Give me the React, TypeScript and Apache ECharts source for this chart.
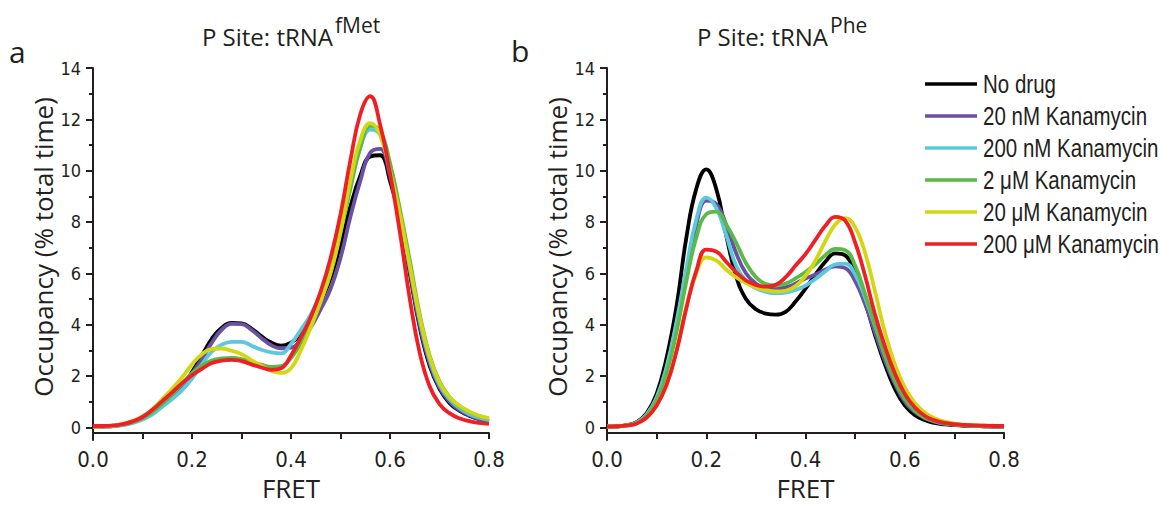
import React, { useEffect, useRef } from "react";
import * as echarts from "echarts";

// ---------- data ----------
const FRET = [
  0, 0.02, 0.04, 0.06, 0.08, 0.1, 0.12, 0.14, 0.16, 0.18, 0.2, 0.22, 0.24, 0.26,
  0.28, 0.3, 0.32, 0.34, 0.36, 0.38, 0.4, 0.42, 0.44, 0.46, 0.48, 0.5, 0.52, 0.54,
  0.56, 0.58, 0.6, 0.62, 0.64, 0.66, 0.68, 0.7, 0.72, 0.74, 0.76, 0.78, 0.8,
];

const SERIES_NAMES = [
  "No drug",
  "20 nM Kanamycin",
  "200 nM Kanamycin",
  "2 \u03bcM Kanamycin",
  "20 \u03bcM Kanamycin",
  "200 \u03bcM Kanamycin",
];
const SERIES_COLORS = ["#000000", "#6a4fa3", "#5cc8de", "#5bb947", "#d3d612", "#ee1f26"];

// Panel a: P site tRNA fMet
const fMetNoDrug = [0.02,0.03,0.05,0.1,0.2,0.36,0.6,0.9,1.22,1.6,2.15,2.8,3.45,3.88,4.07,4.05,3.85,3.55,3.3,3.18,3.3,3.6,4.1,4.9,5.8,7.1,8.6,9.8,10.55,10.6,9.6,8.1,6.0,3.9,2.4,1.5,0.95,0.65,0.45,0.32,0.24];
const fMet20nM = [0.02,0.03,0.05,0.1,0.2,0.36,0.6,0.9,1.22,1.6,2.1,2.65,3.3,3.8,4.03,4.02,3.8,3.48,3.2,3.08,3.1,3.4,3.9,4.6,5.4,6.6,8.2,9.6,10.7,10.85,9.8,8.2,6.1,4.0,2.5,1.55,1.0,0.68,0.47,0.33,0.25];
const fMet200nM = [0.02,0.03,0.04,0.08,0.16,0.3,0.5,0.8,1.1,1.45,1.9,2.45,2.95,3.22,3.33,3.33,3.18,3.02,2.92,2.88,3.25,3.8,4.4,5.2,6.1,7.7,9.5,10.9,11.6,11.4,10.0,8.3,6.3,4.2,2.65,1.65,1.1,0.75,0.52,0.37,0.28];
const fMet2uM = [0.03,0.04,0.06,0.1,0.2,0.36,0.6,0.92,1.28,1.7,2.1,2.4,2.6,2.68,2.7,2.66,2.55,2.44,2.35,2.38,2.7,3.3,4.1,5.0,6.1,7.6,9.3,10.9,11.75,11.55,10.3,8.5,6.5,4.4,2.8,1.78,1.18,0.82,0.6,0.44,0.34];
const fMet20uM = [0.03,0.04,0.06,0.12,0.24,0.42,0.7,1.1,1.5,1.95,2.45,2.85,3.05,3.07,2.98,2.85,2.62,2.4,2.2,2.12,2.3,3.0,3.9,4.9,6.0,7.6,9.6,11.2,11.85,11.4,10.0,8.3,6.3,4.3,2.75,1.75,1.18,0.85,0.62,0.45,0.35];
const fMet200uM = [0.05,0.05,0.07,0.12,0.23,0.4,0.68,1.02,1.36,1.72,2.03,2.28,2.5,2.6,2.63,2.58,2.45,2.33,2.24,2.3,2.8,3.5,4.3,5.3,6.6,8.3,10.4,12.2,12.9,11.8,9.9,7.6,5.0,2.9,1.6,0.9,0.55,0.35,0.24,0.17,0.13];

// Panel b: P site tRNA Phe
const pheNoDrug = [0.02,0.03,0.08,0.2,0.55,1.3,2.7,4.7,7.4,9.3,10.05,9.3,7.5,5.9,5.0,4.6,4.43,4.39,4.5,4.9,5.4,5.95,6.45,6.78,6.7,6.0,4.9,3.6,2.45,1.5,0.85,0.48,0.28,0.17,0.11,0.08,0.06,0.05,0.04,0.03,0.03];
const phe20nM = [0.02,0.03,0.07,0.18,0.5,1.15,2.3,4.0,6.0,7.9,8.83,8.7,7.9,6.8,6.0,5.6,5.42,5.4,5.45,5.6,5.8,5.95,6.15,6.27,6.2,5.7,4.8,3.7,2.6,1.7,1.0,0.6,0.36,0.22,0.14,0.1,0.07,0.05,0.04,0.03,0.03];
const phe200nM = [0.02,0.03,0.07,0.18,0.5,1.15,2.35,4.1,6.2,8.1,8.95,8.55,7.5,6.3,5.7,5.42,5.28,5.22,5.25,5.35,5.52,5.78,6.08,6.35,6.38,5.95,5.05,3.95,2.85,1.9,1.2,0.72,0.43,0.27,0.17,0.11,0.08,0.06,0.05,0.04,0.03];
const phe2uM = [0.02,0.03,0.07,0.17,0.45,1.05,2.1,3.7,5.7,7.4,8.3,8.4,7.9,7.2,6.4,5.85,5.58,5.52,5.6,5.8,6.05,6.35,6.7,6.95,6.9,6.3,5.2,4.0,2.8,1.8,1.1,0.65,0.38,0.23,0.14,0.1,0.07,0.05,0.04,0.03,0.03];
const phe20uM = [0.03,0.04,0.07,0.15,0.38,0.85,1.65,3.0,4.7,6.0,6.62,6.5,6.15,5.85,5.62,5.45,5.35,5.29,5.32,5.5,5.9,6.5,7.25,7.9,8.15,7.8,6.8,5.3,3.7,2.45,1.55,0.95,0.58,0.35,0.22,0.14,0.1,0.08,0.07,0.06,0.05];
const phe200uM = [0.03,0.04,0.07,0.15,0.38,0.85,1.65,2.95,4.65,6.1,6.92,6.85,6.45,6.05,5.72,5.55,5.48,5.55,5.85,6.3,6.75,7.3,7.85,8.2,8.05,7.2,5.9,4.4,3.15,2.1,1.3,0.78,0.45,0.27,0.17,0.12,0.09,0.07,0.06,0.05,0.05];

const PANEL_A = [fMetNoDrug, fMet20nM, fMet200nM, fMet2uM, fMet20uM, fMet200uM];
const PANEL_B = [pheNoDrug, phe20nM, phe200nM, phe2uM, phe20uM, phe200uM];

const Y_MAJOR = [0, 2, 4, 6, 8, 10, 12, 14];
const Y_MINOR = [1, 3, 5, 7, 9, 11, 13];
const X_MIN = 0;
const X_MAX = 0.8;
const X_INTERVAL = 0.2;
const Y_MIN = -0.5;
const Y_MAX = 14;
const Y_STEP = 0.5;

const Y_NAME = "Occupancy (% total time)";
const X_NAME = "FRET";

// ---------- styling ----------
const INK = "#231f20";
const NARROW = "'Liberation Sans Narrow', 'Arial Narrow', 'DejaVu Sans Condensed', sans-serif";
const HUMAN = "'Open Sans', 'Noto Sans', sans-serif";

function buildOption() {
  // plot area: y = 14 at 68px, y = 0 at 434px; y axis line runs a little below the x axis
  const grids = [
    { left: 93, top: 68, width: 396, height: 379 },
    { left: 607, top: 68, width: 397, height: 379 },
  ];
  const axisLineStyle = { color: INK, width: 2 };

  const xAxes = grids.map((_, i) => ({
    gridIndex: i,
    type: "value",
    position: "bottom",
    offset: -7,
    min: X_MIN,
    max: X_MAX,
    interval: X_INTERVAL,
    axisLine: { show: true, onZero: false, lineStyle: axisLineStyle },
    axisTick: { show: true, length: 6, lineStyle: axisLineStyle },
    minorTick: { show: true, splitNumber: 2, length: 6, lineStyle: axisLineStyle },
    splitLine: { show: false },
    minorSplitLine: { show: false },
    axisLabel: {
      fontSize: 22,
      fontFamily: NARROW,
      color: INK,
      margin: 15,
      formatter: (v: number) => v.toFixed(1),
    },
    name: X_NAME,
    nameLocation: "middle",
    nameGap: 39,
    nameTextStyle: { fontSize: 26, fontFamily: HUMAN, color: INK },
  }));

  const yAxes: any[] = [];
  grids.forEach((_, i) => {
    yAxes.push({
      gridIndex: i,
      type: "value",
      position: "left",
      offset: 0,
      min: Y_MIN,
      max: Y_MAX,
      interval: Y_STEP,
      axisLine: { show: true, onZero: false, lineStyle: axisLineStyle },
      axisTick: { show: true, length: 7, customValues: Y_MAJOR, lineStyle: axisLineStyle },
      axisLabel: {
        show: true,
        customValues: Y_MAJOR,
        fontSize: 18,
        fontFamily: NARROW,
        color: INK,
        margin: 12,
      },
      splitLine: { show: false },
    });
    yAxes.push({
      gridIndex: i,
      type: "value",
      position: "left",
      offset: 0,
      min: Y_MIN,
      max: Y_MAX,
      interval: Y_STEP,
      axisLine: { show: false },
      axisTick: { show: true, length: 4, customValues: Y_MINOR, lineStyle: axisLineStyle },
      axisLabel: { show: false },
      splitLine: { show: false },
    });
  });

  const series: any[] = [];
  [PANEL_A, PANEL_B].forEach((panel, p) => {
    panel.forEach((vals, k) => {
      series.push({
        type: "line",
        name: SERIES_NAMES[k],
        xAxisIndex: p,
        yAxisIndex: p * 2,
        data: FRET.map((x, i) => [x, vals[i]]),
        smooth: 0.45,
        symbol: "none",
        showSymbol: false,
        color: SERIES_COLORS[k],
        lineStyle: { width: 3.8, color: SERIES_COLORS[k] },
        z: 2 + k,
        silent: true,
      });
    });
  });

  const txt = (
    text: string,
    x: number,
    y: number,
    size: number,
    align: string,
    family = HUMAN,
    rotation = 0,
    scaleX = 1
  ) => ({
    type: "text",
    x,
    y,
    rotation,
    scaleX,
    silent: true,
    style: {
      text,
      fontSize: size,
      fontFamily: family,
      fill: INK,
      align,
      verticalAlign: "middle",
    },
  });

  // legend (drawn as graphic so the narrow lettering of the figure can be kept)
  const legendEls: any[] = [];
  SERIES_NAMES.forEach((name, k) => {
    const y = 84 + k * 32;
    legendEls.push({
      type: "line",
      silent: true,
      shape: { x1: 925, y1: y, x2: 977, y2: y },
      style: { stroke: SERIES_COLORS[k], lineWidth: 3.5 },
    });
    legendEls.push(txt(name, 983, y, 25, "left", "'Liberation Sans', Arial, sans-serif", 0, 0.82));
  });

  const graphic = [
    txt("a", 9, 51, 30, "left"),
    txt("b", 511, 50, 30, "left"),
    txt("P Site: tRNA", 333, 36, 24, "right"),
    txt("fMet", 335, 25, 21, "left"),
    txt("P Site: tRNA", 828, 36, 24, "right"),
    txt("Phe", 830, 25, 21, "left"),
    txt(Y_NAME, 43, 247, 26, "center", HUMAN, Math.PI / 2),
    txt(Y_NAME, 557, 247, 26, "center", HUMAN, Math.PI / 2),
    ...legendEls,
  ];

  return {
    animation: false,
    backgroundColor: "#ffffff",
    grid: grids,
    xAxis: xAxes,
    yAxis: yAxes,
    series,
    graphic,
  };
}

export default function App() {
  const ref = useRef<HTMLDivElement | null>(null);
  useEffect(() => {
    if (!ref.current) return;
    const chart = echarts.init(ref.current, undefined, { renderer: "svg" });
    chart.setOption(buildOption() as any);
    return () => chart.dispose();
  }, []);
  return (
    <div
      ref={ref}
      style={{ position: "fixed", left: 0, top: 0, width: 1162, height: 506, background: "#fff" }}
    />
  );
}
